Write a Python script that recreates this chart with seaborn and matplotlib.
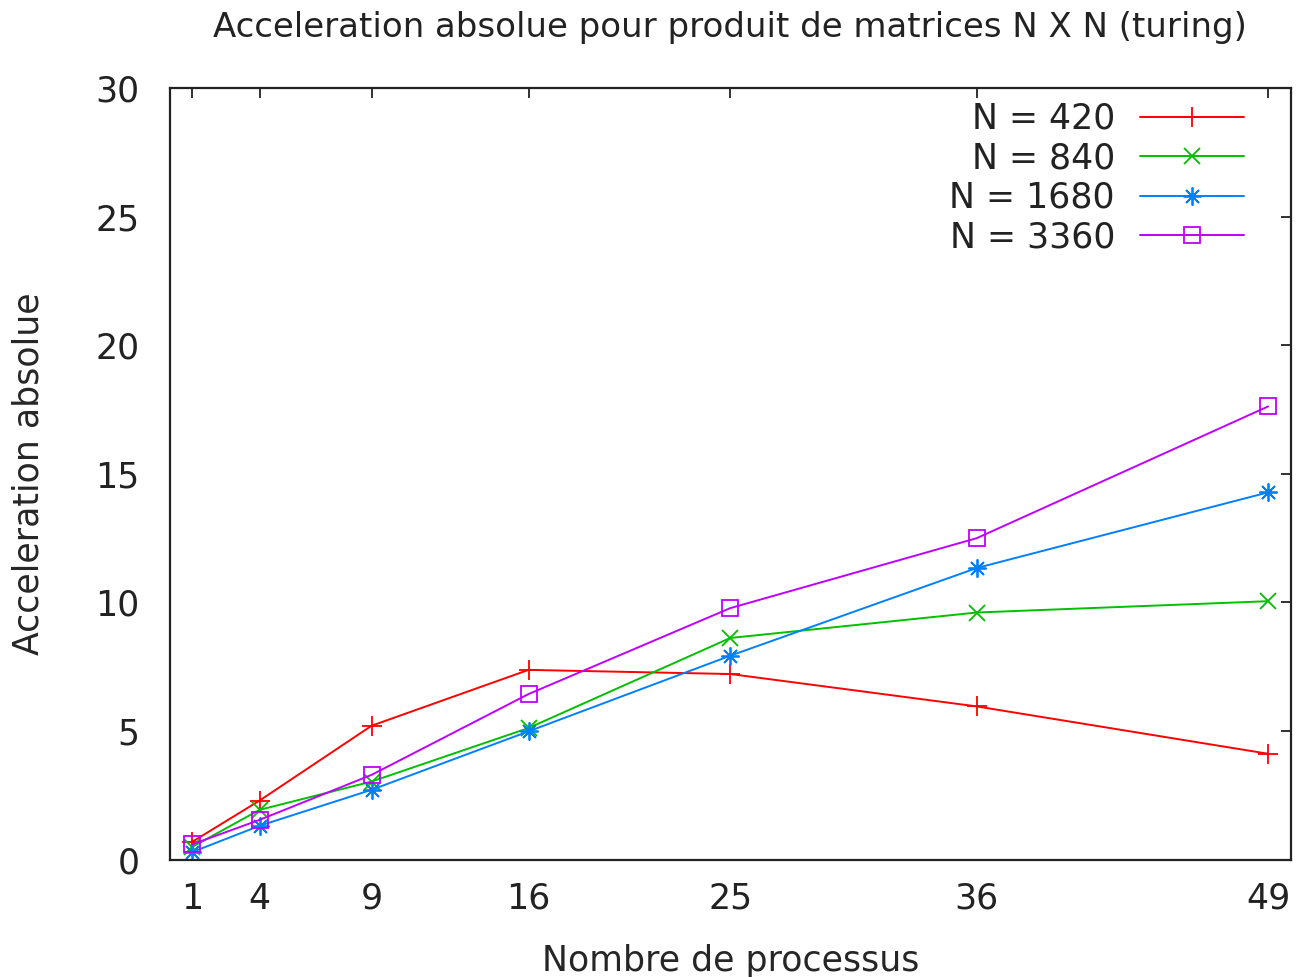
import numpy as np
import pandas as pd
import matplotlib
matplotlib.use("Agg")
import matplotlib.pyplot as plt
import seaborn as sns

processus = [1, 4, 9, 16, 25, 36, 49]
acc_420 = [0.70, 2.30, 5.21, 7.38, 7.22, 5.96, 4.12]
acc_840 = [0.50, 1.94, 3.04, 5.12, 8.62, 9.61, 10.05]
acc_1680 = [0.30, 1.32, 2.72, 4.99, 7.93, 11.34, 14.28]
acc_3360 = [0.60, 1.55, 3.30, 6.44, 9.78, 12.50, 17.62]
labels = ["N = 420", "N = 840", "N = 1680", "N = 3360"]
couleurs = ["#ff0000", "#00c000", "#0080ff", "#c000ff"]
marqueurs = ["+", "x", (8, 2, 0), "s"]
tailles = [14, 12, 13, 11]

series = [acc_420, acc_840, acc_1680, acc_3360]

sns.set_style("white")
plt.rcParams["font.family"] = ["DejaVu Sans"]
plt.rcParams["text.color"] = "#222222"

fig = plt.figure(figsize=(12.97, 9.77), dpi=100)
ax = fig.add_axes([0.131, 0.120, 0.864, 0.790])

# une courbe par taille de matrice
for s, lab, c, m, t in zip(series, labels, couleurs, marqueurs, tailles):
    sns.lineplot(x=processus, y=s, label=lab, color=c, marker=m,
                 markersize=t, markeredgewidth=1.3, markerfacecolor="none",
                 markeredgecolor=c, linewidth=1.4, ax=ax)

ax.set_xlim(0, 50)
ax.set_ylim(0, 30)
ax.set_xticks(processus)
ax.set_yticks(range(0, 31, 5))
ax.tick_params(direction="in", length=7, width=1.3, top=True, right=True,
               labelsize=25, colors="#222222")
ax.tick_params(axis="x", pad=16)
ax.tick_params(axis="y", pad=22)
for sp in ax.spines.values():
    sp.set_linewidth(1.6)
    sp.set_color("#222222")

ax.set_xlabel("Nombre de processus", fontsize=25, labelpad=20)
ax.set_ylabel("Acceleration absolue", fontsize=25, labelpad=36)
ax.set_title("Acceleration absolue pour produit de matrices N X N (turing)",
             fontsize=24.5, pad=37)

leg = ax.legend(loc="upper right", bbox_to_anchor=(0.971, 1.0), frameon=False,
                markerfirst=False, fontsize=25, handlelength=3.0,
                handletextpad=0.72, labelspacing=0.16, borderaxespad=0.0)

fig.savefig("out.png", dpi=100)
